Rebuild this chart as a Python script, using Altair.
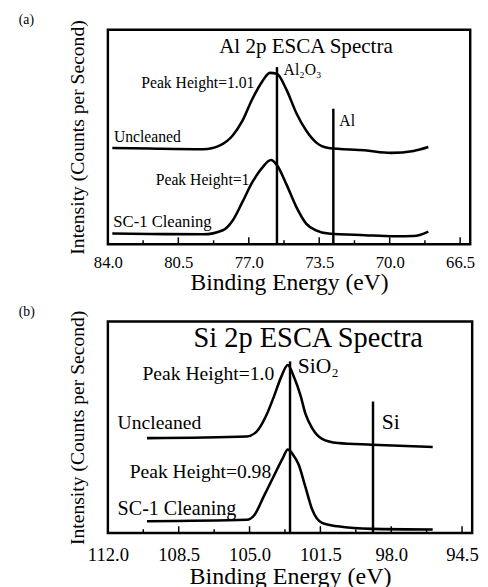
import altair as alt
import pandas as pd

FONT = "Liberation Serif"

# ---------------- Panel (a): Al 2p ----------------
a_unclean_E = [83.78, 81.93, 79.26, 78.43, 77.80, 77.32, 76.83, 76.34, 75.95, 75.61, 75.13, 74.64, 74.15, 73.66, 73.04, 71.24, 69.93, 68.81, 68.08]
a_unclean_I = [44.9, 44.6, 44.3, 46.1, 50.7, 57.5, 67.6, 75.8, 79.9, 79.5, 72.1, 61.2, 53.0, 47.5, 44.9, 43.8, 42.6, 43.5, 45.3]
a_sc1_E = [83.78, 81.93, 79.26, 78.29, 77.80, 77.32, 76.83, 76.34, 75.90, 75.61, 75.13, 74.64, 74.15, 73.66, 73.04, 71.24, 69.78, 68.81, 68.08]
a_sc1_I = [5.0, 4.8, 4.6, 6.5, 11.1, 19.6, 28.8, 35.6, 39.3, 37.0, 27.9, 17.4, 9.6, 6.5, 5.0, 4.2, 3.7, 3.8, 5.9]
a_ref_E = [75.6, 72.8]
a_ref_top = [82.6, 63.2]
a_major = [84.0, 80.5, 77.0, 73.5, 70.0, 66.5]
a_minor = [82.25, 78.75, 75.25, 71.75, 68.25]
a_lab_text = ["Al 2p ESCA Spectra", "Al\u2082O\u2083", "Peak Height=1.01", "Uncleaned", "Al", "Peak Height=1", "SC-1 Cleaning"]
a_lab_E = [74.16, 75.27, 76.72, 83.7, 72.5, 76.97, 83.73]
a_lab_I = [91.8, 81.3, 74.9, 49.8, 57.5, 29.7, 10.5]

# ---------------- Panel (b): Si 2p ----------------
b_unclean_E = [110.07, 105.14, 104.65, 104.17, 103.78, 103.45, 103.11, 102.82, 102.48, 102.24, 101.90, 101.42, 100.64, 98.95, 95.95]
b_unclean_I = [44.9, 45.7, 48.0, 55.7, 65.0, 73.5, 79.5, 74.2, 65.0, 56.5, 49.5, 44.6, 42.6, 41.8, 40.7]
b_sc1_E = [110.07, 105.14, 104.75, 104.31, 103.83, 103.35, 103.11, 102.86, 102.58, 102.24, 101.90, 101.42, 100.64, 98.95, 95.95]
b_sc1_I = [5.6, 6.3, 8.7, 17.1, 26.4, 35.6, 39.5, 37.2, 32.5, 21.8, 11.0, 4.8, 3.2, 2.0, 1.7]
b_ref_E = [103.0, 98.9]
b_ref_top = [81.2, 62.2]
b_major = [112.0, 108.5, 105.0, 101.5, 98.0, 94.5]
b_minor = [110.25, 106.75, 103.25, 99.75, 96.25]
b_lab_text = ["Si 2p ESCA Spectra", "SiO\u2082", "Peak Height=1.0", "Uncleaned", "Si", "Peak Height=0.98", "SC-1 Cleaning"]
b_lab_E = [102.1, 102.62, 103.78, 111.52, 98.47, 103.93, 111.52]
b_lab_I = [92.1, 78.8, 75.0, 51.9, 52.6, 28.7, 11.1]

PAD = {"left": 9, "top": -3, "right": 0, "bottom": 0}


def panel(tag, u_E, u_I, s_E, s_I, ref_E, ref_top, major, minor,
          lab_text, lab_E, lab_I, lab_sizes, lab_aligns, domain, w, h,
          tick_fs, title_fs, ytitle_fs, lab_pad, title_pad):
    xs = alt.Scale(domain=domain, nice=False, zero=False)
    ys = alt.Scale(domain=[0, 100], nice=False, zero=False)
    curves = pd.DataFrame({
        "E": u_E + s_E,
        "I": u_I + s_I,
        "series": ["Uncleaned"] * len(u_E) + ["SC-1"] * len(s_E),
        "idx": list(range(len(u_E))) + list(range(len(s_E))),
    })
    xenc = alt.X("E:Q", scale=xs,
                 axis=alt.Axis(values=major, format=".1f", labelFont=FONT,
                               labelFontSize=tick_fs, labelColor="black",
                               labelFlush=False, labelOverlap=False,
                               ticks=False, domain=False, grid=False,
                               labelPadding=lab_pad, title="Binding Energy (eV)",
                               titleFont=FONT, titleFontSize=title_fs,
                               titleFontWeight="normal", titleColor="black",
                               titlePadding=title_pad))
    yenc = alt.Y("I:Q", scale=ys,
                 axis=alt.Axis(labels=False, ticks=False, domain=False, grid=False,
                               title="Intensity (Counts per Second)",
                               titleFont=FONT, titleFontSize=ytitle_fs,
                               titleFontWeight="normal", titleColor="black",
                               titlePadding=21))
    line = alt.Chart(curves).mark_line(color="black", strokeWidth=2.6,
                                       interpolate="monotone").encode(
        x=xenc, y=yenc, detail="series:N", order="idx:Q")
    refs = pd.DataFrame({"E": ref_E, "top": ref_top})
    rule = alt.Chart(refs).mark_rule(color="black", strokeWidth=2.5).encode(
        x=alt.X("E:Q", scale=xs), y=alt.Y("top:Q", scale=ys), y2=alt.datum(0))
    tmaj = alt.Chart(pd.DataFrame({"t": major})).mark_rule(color="black", strokeWidth=1.5).encode(
        x=alt.X("t:Q", scale=xs), y=alt.value(h), y2=alt.value(h - 7))
    tmin = alt.Chart(pd.DataFrame({"t": minor})).mark_rule(color="black", strokeWidth=1.5).encode(
        x=alt.X("t:Q", scale=xs), y=alt.value(h), y2=alt.value(h - 4))
    labs = pd.DataFrame({"text": lab_text, "E": lab_E, "I": lab_I,
                         "size": lab_sizes, "align": lab_aligns})
    layers = [line, rule, tmaj, tmin]
    for al in ["left", "right", "center"]:
        layers.append(
            alt.Chart(labs).transform_filter(alt.datum.align == al)
            .mark_text(align=al, baseline="middle", font=FONT, color="black")
            .encode(x=alt.X("E:Q", scale=xs), y=alt.Y("I:Q", scale=ys),
                    text="text:N", size=alt.Size("size:Q", scale=None, legend=None)))
    tagc = alt.Chart(pd.DataFrame({"t": [tag]})).mark_text(
        align="left", baseline="middle", font=FONT, fontSize=14, color="black").encode(
        x=alt.value(-91), y=alt.value(-10), text="t:N")
    layers.append(tagc)
    return alt.layer(*layers).properties(width=w, height=h)


pa = panel("(a)", a_unclean_E, a_unclean_I, a_sc1_E, a_sc1_I, a_ref_E, a_ref_top,
           a_major, a_minor, a_lab_text, a_lab_E, a_lab_I,
           [21.5, 16, 16, 16, 16, 16, 17],
           ["center", "left", "right", "left", "left", "right", "left"],
           [84, 66], 370, 219, 17, 24, 20, 11, 0)
pb = panel("(b)", b_unclean_E, b_unclean_I, b_sc1_E, b_sc1_I, b_ref_E, b_ref_top,
           b_major, b_minor, b_lab_text, b_lab_E, b_lab_I,
           [29, 22, 20, 20, 22, 20, 20.5],
           ["center", "left", "right", "left", "left", "right", "left"],
           [112, 94], 372, 216, 19, 24.5, 20, 13, 0)

chart = alt.vconcat(pa, pb, spacing=7, padding=PAD).resolve_scale(
    x="independent", y="independent").configure(padding=PAD).configure_view(
    stroke="black", strokeWidth=2.5)

chart.save("out.html", embed_options={"renderer": "svg", "actions": False})
